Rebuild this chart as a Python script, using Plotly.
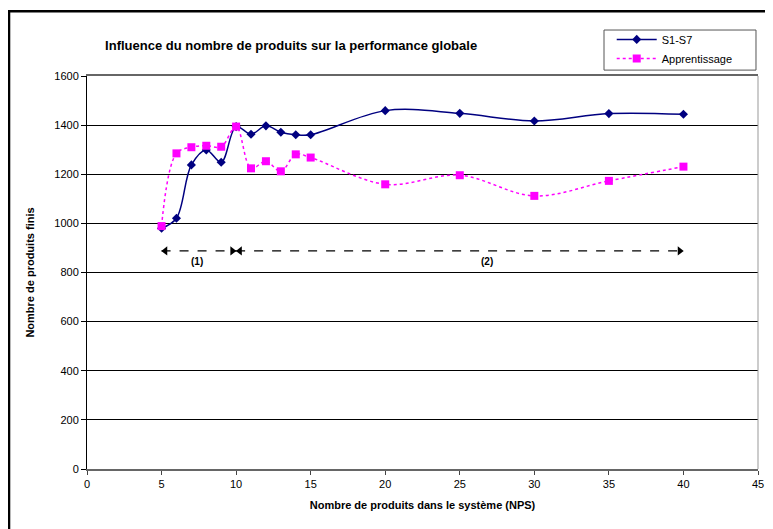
import plotly.graph_objects as go

# Données
nps = [5, 6, 7, 8, 9, 10, 11, 12, 13, 14, 15, 20, 25, 30, 35, 40]
s1_s7 = [980, 1021, 1238, 1299, 1249, 1394, 1363, 1397, 1371, 1361, 1361,
         1459, 1448, 1417, 1447, 1444]
apprentissage = [989, 1285, 1310, 1316, 1312, 1394, 1224, 1253, 1212, 1281, 1268,
                 1159, 1196, 1112, 1173, 1231]

# Zones (1) et (2)
zone_labels = ['(1)', '(2)']
zone_start = [5, 10]
zone_end = [10, 40]
zone_y = 888
zone_label_x = [7.4, 26.8]

FONT = 'Liberation Sans, Arial, sans-serif'
W, H = 765, 521   # la page ajoute une marge de 8 px

fig = go.Figure()

fig.add_trace(go.Scatter(
    x=nps, y=s1_s7, mode='lines+markers', name='S1-S7',
    line=dict(color='#000080', width=1.5, shape='spline', smoothing=1.0),
    marker=dict(symbol='diamond', size=7, color='#000080'),
))
fig.add_trace(go.Scatter(
    x=nps, y=apprentissage, mode='lines+markers', name='Apprentissage',
    line=dict(color='#FF00FF', width=1.5, dash='dot', shape='spline', smoothing=1.0),
    marker=dict(symbol='square', size=8, color='#FF00FF'),
))

# flèches pointillées des zones
for lab, x0, x1, xl in zip(zone_labels, zone_start, zone_end, zone_label_x):
    fig.add_trace(go.Scatter(
        x=[x0, x1], y=[zone_y, zone_y], mode='lines', showlegend=False,
        line=dict(color='black', width=1.2, dash='dash'), hoverinfo='skip',
    ))
    fig.add_trace(go.Scatter(
        x=[x0 + 0.25, x1 - 0.25], y=[zone_y, zone_y], mode='markers', showlegend=False,
        marker=dict(symbol=['triangle-left', 'triangle-right'], size=8, color='black'),
        hoverinfo='skip',
    ))
    fig.add_annotation(x=xl, y=zone_y, yshift=-11, text=f'<b>{lab}</b>', showarrow=False,
                       font=dict(size=10, color='black', family=FONT))

# cadre extérieur (haut et gauche visibles)
fig.add_shape(type='rect', xref='paper', yref='paper', x0=-0.1162, x1=1.05,
              y0=-0.3, y1=1.165, line=dict(color='black', width=2.5),
              fillcolor='rgba(0,0,0,0)', layer='below')
# bord droit de la zone de tracé
fig.add_shape(type='line', xref='paper', yref='paper', x0=1, x1=1, y0=0, y1=1,
              line=dict(color='#999999', width=1))
# cadre de la légende
fig.add_shape(type='rect', xref='paper', yref='paper', x0=0.7705, x1=0.997,
              y0=1.015, y1=1.117, line=dict(color='#555555', width=1),
              fillcolor='white', layer='below')

fig.update_layout(
    width=W, height=H,
    paper_bgcolor='white', plot_bgcolor='white',
    margin=dict(l=79, r=15, t=68, b=60, autoexpand=False),
    font=dict(family=FONT, size=11, color='black'),
    title=dict(text='<b>Influence du nombre de produits sur la performance globale</b>',
               xref='paper', x=0.027, xanchor='left', yref='container',
               y=1 - 37 / H, yanchor='middle', font=dict(size=13)),
    legend=dict(x=0.782, y=1.13, xanchor='left', yanchor='top',
                borderwidth=0, bgcolor='rgba(0,0,0,0)',
                font=dict(size=11), tracegroupgap=0, itemwidth=40),
    showlegend=True,
)

fig.update_xaxes(
    range=[0, 45], tickvals=list(range(0, 46, 5)), showgrid=False, zeroline=False,
    showline=True, linecolor='#666666', linewidth=1.5, mirror=True,
    ticks='outside', ticklen=4, tickcolor='#444444', automargin=False,
    title=dict(text='<b>Nombre de produits dans le système (NPS)</b>', font=dict(size=11),
               standoff=12),
)
fig.update_yaxes(
    range=[0, 1600], tickvals=list(range(0, 1601, 200)), showgrid=True,
    gridcolor='black', gridwidth=1, zeroline=False,
    showline=True, linecolor='black', linewidth=1,
    ticks='outside', ticklen=5, tickcolor='black', automargin=False,
    title=dict(text='<b>Nombre de produits finis</b>', font=dict(size=11), standoff=17),
)

fig.write_html('out.html')
